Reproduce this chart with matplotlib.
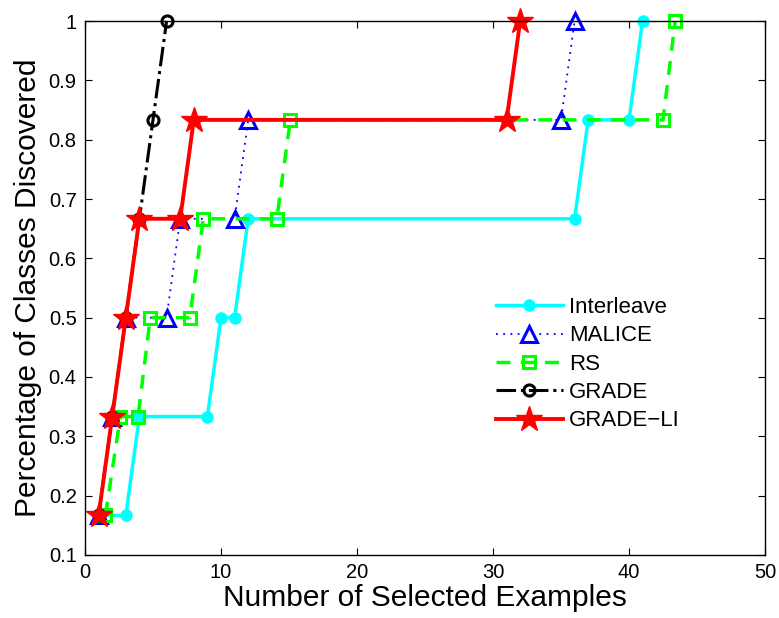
import matplotlib
matplotlib.use("Agg")
from matplotlib import pyplot as plt

plt.rcParams['font.family'] = ['Liberation Sans', 'DejaVu Sans']

# fraction of classes found vs number of queried examples
interleave_x = [1, 3, 4, 9, 10, 11, 12, 36, 37, 40, 41]
interleave_y = [1/6, 1/6, 2/6, 2/6, 3/6, 3/6, 4/6, 4/6, 5/6, 5/6, 1]
malice_x = [1, 2, 3, 6, 7, 11, 12, 35, 36]
malice_y = [1/6, 2/6, 3/6, 3/6, 4/6, 4/6, 5/6, 5/6, 1]
rs_x = [1.5, 2.6, 3.9, 4.8, 7.7, 8.7, 14.1, 15.1, 42.5, 43.4]
rs_y = [1/6, 2/6, 2/6, 3/6, 3/6, 4/6, 4/6, 5/6, 5/6, 1]
grade_x = [1, 2, 3, 4, 5, 6]
grade_y = [1/6, 2/6, 3/6, 4/6, 5/6, 1]
gradeli_x = [1, 2, 3, 4, 7, 8, 31, 32]
gradeli_y = [1/6, 2/6, 3/6, 4/6, 4/6, 5/6, 5/6, 1]

fig = plt.figure(figsize=(7.79, 6.18), dpi=100)
ax = fig.add_axes([85/779, 1-555/618, 680/779, 534/618])

ax.plot(interleave_x, interleave_y, '-', color='cyan', lw=2.5, marker='o',
        ms=8, mfc='cyan', mec='cyan', label='Interleave', clip_on=False)
ax.plot(malice_x, malice_y, color='blue', lw=1.3, marker='^',
        ms=11, mfc='none', mec='blue', mew=2.2, label='MALICE',
        dashes=(1, 3), clip_on=False)
ax.plot(rs_x, rs_y, '--', color='#00ff00', lw=2.5, marker='s',
        ms=9, mfc='none', mec='#00ff00', mew=2.2, label='RS', dashes=(4, 3),
        clip_on=False)
ax.plot(grade_x, grade_y, '-.', color='black', lw=2.2, marker='o',
        ms=8, mfc='none', mec='black', mew=2.2, label='GRADE', clip_on=False)
ax.plot(gradeli_x, gradeli_y, '-', color='red', lw=2.8, marker='*',
        ms=19, mfc='red', mec='red', label='GRADE\u2212LI', clip_on=False)

ax.set_xlim(0, 50)
ax.set_ylim(0.1, 1)
ax.set_xticks(range(0, 51, 10))
ax.set_yticks([0.1, 0.2, 0.3, 0.4, 0.5, 0.6, 0.7, 0.8, 0.9, 1])
ax.set_yticklabels(['0.1', '0.2', '0.3', '0.4', '0.5', '0.6', '0.7', '0.8', '0.9', '1'])
ax.tick_params(direction='in', top=True, right=True, length=5, width=0.8,
               labelsize=14.5, pad=6)
for s in ax.spines.values():
    s.set_linewidth(1.0)

ax.set_xlabel('Number of Selected Examples', fontsize=21.5, labelpad=1)
ax.set_ylabel('Percentage of Classes Discovered', fontsize=21.5, labelpad=5)

ax.legend(loc='upper left', bbox_to_anchor=(496/779, 1-297/618),
          bbox_transform=fig.transFigure, frameon=False, fontsize=16,
          handlelength=3.0, handletextpad=0.3, labelspacing=0.33,
          borderpad=0, borderaxespad=0)

fig.savefig('out.png', dpi=100)
